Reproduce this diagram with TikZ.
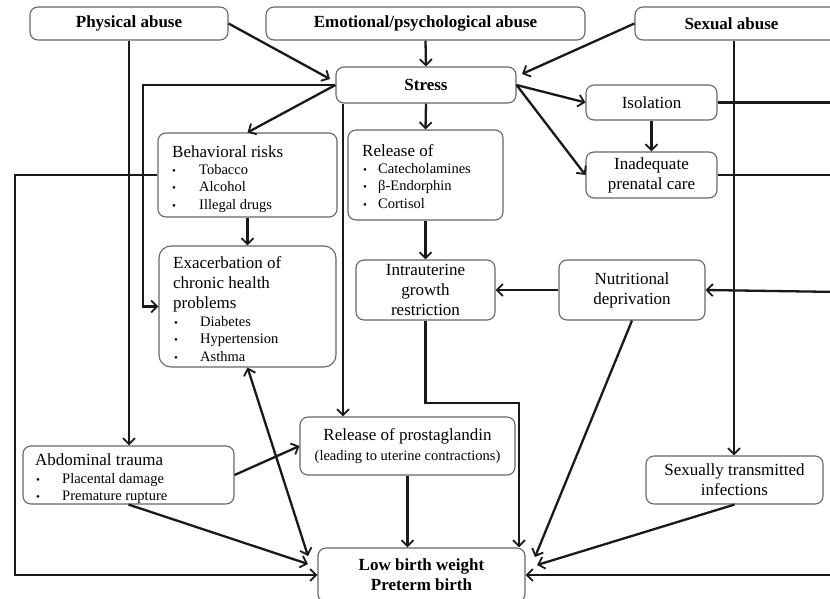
\documentclass[tikz,border=0pt]{standalone}
\usepackage{fontspec}
\setmainfont{Liberation Serif}
\usetikzlibrary{arrows.meta,calc}
\newcommand{\mainsz}{\fontsize{17}{20}\selectfont}
\newcommand{\smallsz}{\fontsize{14.5}{17.5}\selectfont}
\newcommand{\bul}{{\fontsize{11}{11}\selectfont\textbullet}}
\newcommand{\bx}[7][]{\node[box,#1,minimum width={#5-#3},minimum height={#6-#4}] (#2) at ({(#3+#5)/2},{(#4+#6)/2}) {#7};}
\tikzset{
  box/.style={draw=black!60, line width=1.1pt, rounded corners=8pt, inner sep=0pt, align=center, font=\mainsz, fill=white},
  txt/.style={anchor=base west, inner sep=0pt, font=\mainsz},
  sml/.style={anchor=base west, inner sep=0pt, font=\smallsz},
  conn/.style={draw=black!90, line width=2.3pt, -{Straight Barb[length=6pt,width=12pt,line width=1.8pt]}},
  dconn/.style={draw=black!90, line width=2.3pt, {Straight Barb[length=6pt,width=12pt,line width=1.8pt]}-{Straight Barb[length=6pt,width=12pt,line width=1.8pt]}},
  plain/.style={draw=black!90, line width=2.3pt}
}
\begin{document}
\begin{tikzpicture}[x=1pt,y=-1pt]
\useasboundingbox (0,0) rectangle (830,598);
\fill[white] (0,0) rectangle (830,598);

% boxes
\bx[font=\mainsz\bfseries]{phys}{30}{7}{228}{40}{Physical abuse}
\bx[font=\mainsz\bfseries]{emo}{266}{7}{585}{40}{Emotional/psychological abuse}
\bx[font=\mainsz\bfseries]{sex}{635}{7}{840}{40}{\hspace*{-12pt}Sexual abuse}
\bx[font=\mainsz\bfseries]{stress}{336}{67}{516}{103}{Stress}
\bx{iso}{586}{85}{717}{120}{Isolation}
\bx{inad}{586}{152}{717}{198}{Inadequate\\prenatal care}
\bx{beh}{158}{133}{337}{217}{}
\bx{rel}{348}{130}{503}{220}{}
\bx[rounded corners=12pt]{exa}{159}{246}{336}{367}{}
\bx{iugr}{356}{260}{495}{320}{Intrauterine\\growth\\restriction}
\bx{nut}{559}{260}{705}{320}{Nutritional\\deprivation}
\bx{pros}{300}{417}{515}{475}{Release of prostaglandin\\{\smallsz (leading to uterine contractions)}}
\bx{abd}{23}{446}{234}{504}{}
\bx{sti}{646}{456}{823}{504}{Sexually transmitted\\infections}
\bx[font=\mainsz\bfseries]{lbw}{318}{548}{525}{602}{Low birth weight\\Preterm birth}

% list texts
\node[txt] (behT) at (172,157) {Behavioral risks};
\node[sml] (beh1) at (172,174) {\makebox[27pt][l]{\bul}Tobacco};
\node[sml] (beh2) at (172,191.5) {\makebox[27pt][l]{\bul}Alcohol};
\node[sml] (beh3) at (172,209) {\makebox[27pt][l]{\bul}Illegal drugs};

\node[txt] (relT) at (362,156) {Release of};
\node[sml] (rel1) at (363,173) {\makebox[15pt][l]{\bul}Catecholamines};
\node[sml] (rel2) at (363,190.5) {\makebox[15pt][l]{\bul}β-Endorphin};
\node[sml] (rel3) at (363,208) {\makebox[15pt][l]{\bul}Cortisol};

\node[txt] (exaT1) at (173,268) {Exacerbation of};
\node[txt] (exaT2) at (173,288) {chronic health};
\node[txt] (exaT3) at (173,308) {problems};
\node[sml] (exa1) at (174,326) {\makebox[26pt][l]{\bul}Diabetes};
\node[sml] (exa2) at (174,343.5) {\makebox[26pt][l]{\bul}Hypertension};
\node[sml] (exa3) at (174,361) {\makebox[26pt][l]{\bul}Asthma};

\node[txt] (abdT) at (35,465) {Abdominal trauma};
\node[sml] (abd1) at (36,483) {\makebox[26pt][l]{\bul}Placental damage};
\node[sml] (abd2) at (36,500.5) {\makebox[26pt][l]{\bul}Premature rupture};

% helper coordinates
\coordinate (cx143) at (143,0);
\coordinate (cx343) at (343,0);
\coordinate (cx734) at (734,0);
\coordinate (cx15) at (15,0);
\coordinate (cbend) at (519,403);
\coordinate (tA) at (330,79);
\coordinate (tB) at (522,74);
\coordinate (t1) at (308,556);
\coordinate (t2) at (308,564);
\coordinate (t3) at (535,557);
\coordinate (t4) at (537,565);
\coordinate (eIso) at (840,102.5);
\coordinate (eInad) at (840,175);
\coordinate (eNut) at (840,292);
\coordinate (eLbw) at (840,575);

% connectors
\draw[conn] (phys.east) -- (tA);
\draw[conn] (emo.south) -- (stress.north);
\draw[conn] (sex.west) -- (tB);
\draw[conn] (phys.south) -- (phys.south |- abd.north);
\draw[conn] (stress.west) -- (stress.west -| cx143) |- (exa.west);
\draw[conn] (stress.west) -- (beh.north);
\draw[conn] (stress.south -| cx343) -- (pros.north -| cx343);
\draw[conn] (stress.south) -- (rel.north);
\draw[conn] (stress.east) -- (iso.west);
\draw[conn] (stress.east) -- (inad.west);
\draw[conn] (iso.south) -- (inad.north);
\draw[plain] (iso.east) -- (eIso);
\draw[plain] (inad.east) -- (eInad);
\draw[conn] (sex.south -| cx734) -- (sti.north -| cx734);
\draw[conn] (beh.west) -- (beh.west -| cx15) |- (lbw.west);
\draw[conn] (beh.south) -- (exa.north);
\draw[conn] (rel.south) -- (iugr.north);
\draw[conn] (nut.west) -- (iugr.east);
\draw[conn] (iugr.south) |- (cbend) -- (cbend |- lbw.north);
\draw[dconn] (exa.south) -- (t1);
\draw[conn] (abd.east) -- (pros.west);
\draw[conn] (abd.south) -- (t2);
\draw[conn] (pros.south) -- (pros.south |- lbw.north);
\draw[conn] (nut.south) -- (t3);
\draw[conn] (sti.south) -- (t4);
\draw[conn] (eNut) -- (nut.east);
\draw[conn] (eLbw) -- (lbw.east);
\end{tikzpicture}
\end{document}
